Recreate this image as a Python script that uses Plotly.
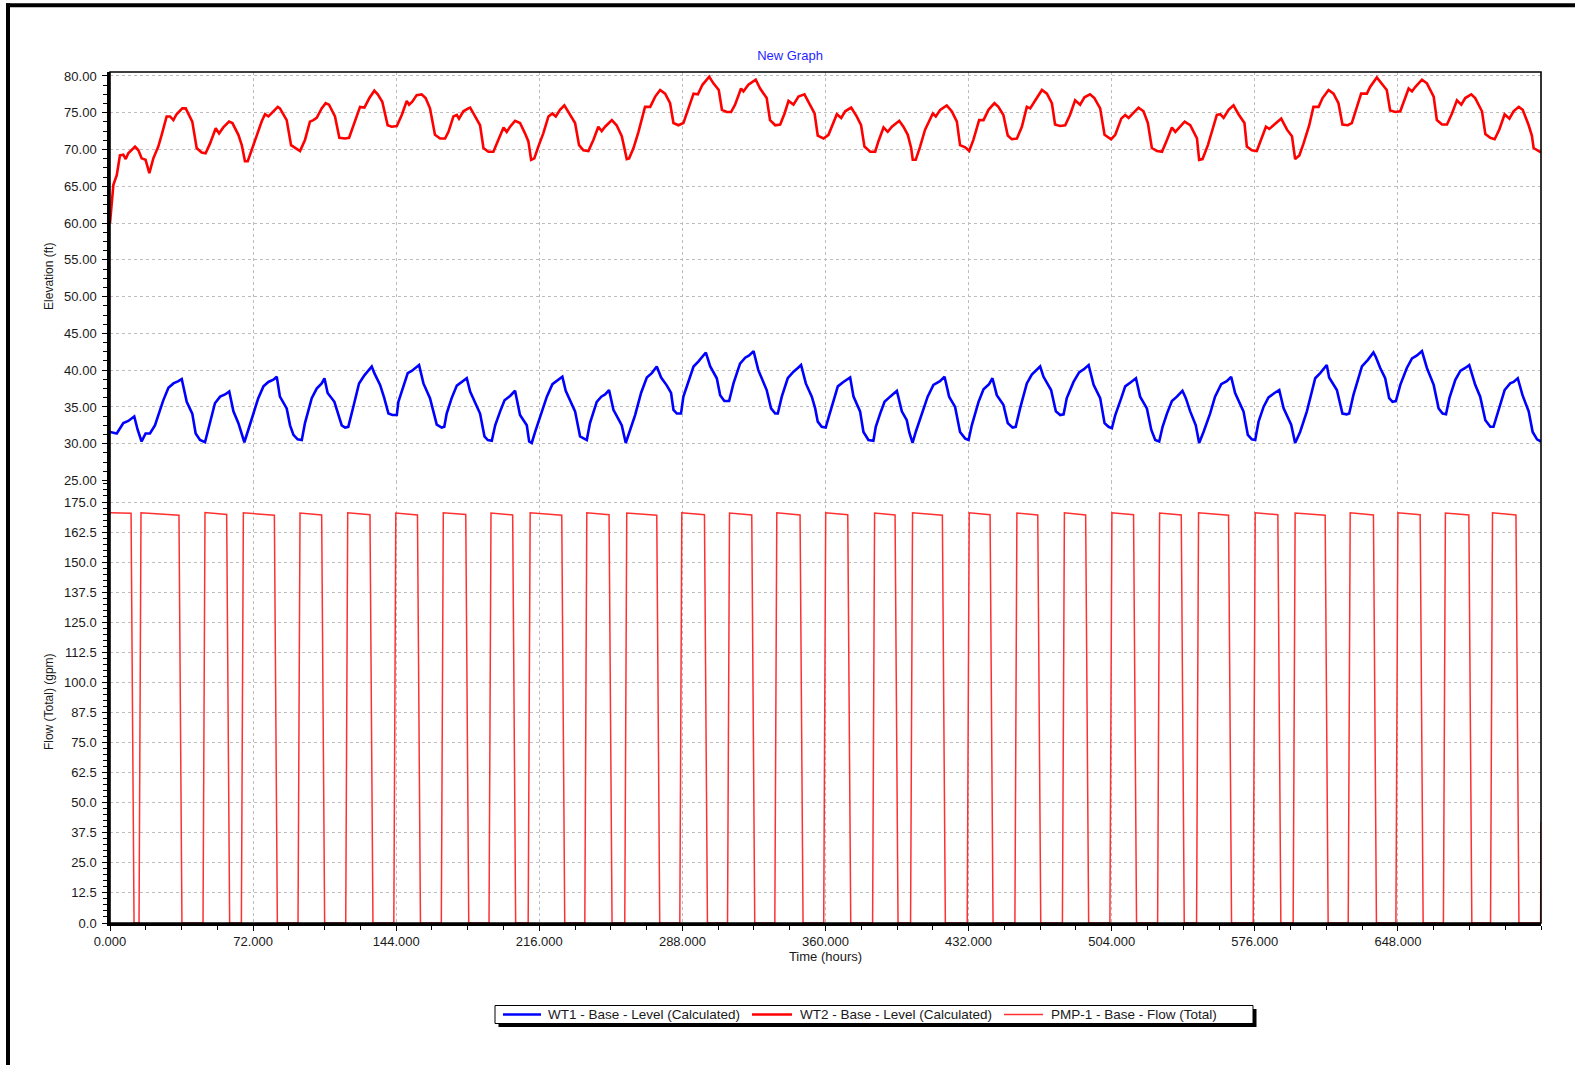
import plotly.graph_objects as go

# ---------------- data ----------------
# WT2 - Base - Level (Calculated): (time h, elevation ft)
wt2_samples = [
    (0.0, 60.0), (1.7, 65.2), (3.4, 66.5), (5.0, 69.2), (6.7, 69.3), (7.9, 68.7), (9.2, 69.5),
    (12.6, 70.4), (14.3, 69.9), (15.9, 68.8), (17.9, 68.6), (19.8, 66.8), (21.8, 68.8), (24.3, 70.4),
    (26.0, 72.0), (28.5, 74.5), (30.2, 74.5), (31.9, 74.0), (33.5, 74.8), (36.4, 75.6), (38.1, 75.6),
    (41.4, 73.8), (43.6, 70.2), (46.1, 69.6), (48.1, 69.5), (50.3, 70.8), (53.2, 72.9), (54.9, 72.2),
    (57.0, 73.0), (59.9, 73.8), (61.6, 73.6), (64.6, 72.0), (66.3, 70.6), (67.9, 68.4), (69.3, 68.4),
    (71.3, 69.9), (73.8, 72.0), (76.3, 73.8), (78.0, 74.8), (79.7, 74.5), (82.2, 75.2), (84.4, 75.8),
    (85.5, 75.6), (88.9, 74.0), (91.1, 70.6), (93.1, 70.2), (95.6, 69.8), (98.1, 71.3), (100.6, 73.8),
    (102.3, 74.0), (104.0, 74.3), (106.5, 75.6), (108.5, 76.3), (110.2, 76.1), (113.2, 74.5),
    (115.4, 71.6), (118.3, 71.5), (120.3, 71.6), (122.4, 73.1), (125.8, 75.8), (128.0, 75.7),
    (130.5, 77.0), (133.0, 78.0), (134.7, 77.5), (137.0, 76.5), (139.7, 73.3), (141.7, 73.1),
    (144.3, 73.2), (146.8, 74.7), (149.3, 76.6), (150.5, 76.1), (152.1, 76.5), (154.3, 77.4),
    (156.8, 77.5), (158.8, 77.0), (161.0, 75.6), (163.5, 72.0), (166.1, 71.5), (168.6, 71.5),
    (170.3, 72.4), (172.8, 74.5), (174.5, 74.7), (175.6, 74.2), (177.8, 75.2), (180.3, 75.6),
    (181.2, 75.7), (183.7, 74.5), (186.2, 73.3), (187.9, 70.2), (190.4, 69.7), (192.9, 69.7),
    (195.4, 71.3), (198.0, 73.0), (199.6, 72.4), (201.3, 73.1), (203.8, 73.9), (206.3, 73.6),
    (208.8, 72.2), (210.5, 71.1), (211.9, 68.6), (213.5, 68.8), (215.5, 70.4), (218.0, 72.2),
    (220.6, 74.5), (222.6, 74.9), (224.3, 74.5), (226.4, 75.4), (228.6, 76.0), (231.5, 74.8),
    (234.0, 73.6), (236.0, 70.6), (238.2, 69.9), (240.7, 69.8), (243.2, 71.3), (245.7, 73.1),
    (247.4, 72.5), (249.1, 73.1), (252.5, 74.0), (254.9, 73.3), (257.5, 71.8), (260.0, 68.7),
    (261.2, 68.8), (263.4, 70.2), (265.9, 72.4), (269.2, 75.8), (271.8, 75.8), (274.3, 77.2),
    (276.8, 78.1), (279.3, 77.6), (281.8, 76.3), (283.5, 73.6), (286.0, 73.3), (288.5, 73.6),
    (291.0, 75.6), (293.6, 77.6), (295.8, 77.5), (298.1, 78.8), (301.5, 79.9), (303.6, 79.0),
    (306.3, 78.1), (307.9, 75.4), (310.3, 75.1), (312.5, 75.1), (314.5, 76.1), (317.5, 78.3),
    (318.7, 77.9), (321.2, 78.8), (324.9, 79.5), (327.1, 78.3), (330.4, 77.0), (332.1, 74.0),
    (334.7, 73.3), (337.2, 73.4), (339.4, 74.9), (341.4, 76.6), (343.9, 76.1), (346.4, 77.2),
    (349.4, 77.5), (351.4, 76.5), (354.5, 74.9), (356.1, 71.9), (359.0, 71.5), (361.5, 72.0),
    (364.0, 73.8), (365.7, 74.8), (367.9, 74.3), (369.9, 75.2), (372.9, 75.7), (375.7, 74.5),
    (377.9, 73.3), (379.6, 70.4), (382.5, 69.7), (385.0, 69.7), (386.6, 71.1), (389.2, 73.0),
    (391.3, 72.4), (393.4, 73.1), (397.1, 73.9), (399.2, 73.1), (401.4, 72.0), (403.1, 70.2),
    (403.9, 68.6), (405.4, 68.6), (407.6, 70.4), (410.1, 72.7), (414.0, 74.9), (415.5, 74.5),
    (417.7, 75.4), (421.0, 76.0), (423.5, 75.2), (426.1, 73.8), (427.7, 70.6), (430.3, 70.3),
    (432.3, 69.8), (434.4, 71.3), (437.3, 74.0), (439.5, 74.0), (442.0, 75.4), (445.0, 76.3),
    (447.0, 75.8), (449.5, 74.7), (451.7, 71.9), (453.7, 71.4), (456.3, 71.5), (458.8, 73.1),
    (461.3, 75.8), (463.0, 75.6), (465.1, 76.5), (468.9, 78.1), (471.4, 77.6), (473.9, 76.3),
    (475.5, 73.4), (478.0, 73.2), (480.6, 73.3), (483.0, 74.7), (485.6, 76.7), (488.1, 76.1),
    (490.3, 77.1), (493.1, 77.5), (495.3, 77.0), (498.2, 75.6), (500.4, 72.0), (503.7, 71.4),
    (505.8, 72.0), (508.8, 74.2), (510.8, 74.7), (512.5, 74.3), (517.5, 75.7), (520.0, 75.2),
    (522.2, 73.6), (524.2, 70.2), (526.8, 69.8), (529.3, 69.7), (531.8, 71.3), (534.3, 73.0),
    (536.0, 72.4), (537.6, 72.9), (540.7, 73.8), (543.5, 73.3), (546.9, 71.5), (548.0, 68.6),
    (549.7, 68.7), (552.4, 70.6), (554.4, 72.4), (556.9, 74.7), (558.6, 74.8), (560.3, 74.3),
    (562.8, 75.4), (565.3, 76.0), (567.8, 74.8), (570.8, 73.6), (572.0, 70.4), (574.5, 69.9),
    (577.0, 69.8), (579.2, 71.3), (581.6, 73.1), (583.3, 72.8), (585.0, 73.2), (589.3, 74.2),
    (592.2, 72.7), (594.7, 71.8), (596.3, 68.7), (598.4, 69.2), (600.5, 70.8), (603.4, 73.3),
    (605.5, 75.8), (608.1, 75.8), (610.1, 77.0), (613.1, 78.1), (615.6, 77.6), (618.1, 76.3),
    (620.1, 73.4), (622.8, 73.3), (624.8, 73.6), (626.8, 75.2), (629.5, 77.6), (632.4, 77.6),
    (634.0, 78.5), (637.4, 79.8), (639.9, 79.0), (642.4, 78.1), (644.1, 75.3), (646.7, 75.1),
    (649.2, 75.2), (650.8, 76.3), (653.4, 78.3), (655.1, 77.9), (656.7, 78.5), (660.1, 79.5),
    (662.6, 79.0), (666.0, 77.2), (667.6, 74.0), (670.2, 73.4), (672.7, 73.4), (675.2, 74.9),
    (677.7, 76.7), (679.9, 76.1), (681.9, 77.0), (684.9, 77.5), (686.9, 77.0), (690.3, 75.2),
    (692.0, 72.1), (694.5, 71.6), (696.7, 71.4), (699.0, 72.7), (701.7, 74.8), (704.1, 74.2),
    (706.2, 75.2), (708.8, 75.8), (710.8, 75.4), (713.8, 73.3), (715.4, 71.9), (716.3, 70.2),
    (718.0, 69.9), (720.0, 69.6),
]

# WT1 - Base - Level (Calculated): (time h, elevation ft)
wt1_samples = [
    (0.0, 31.6), (3.4, 31.4), (6.7, 32.8), (9.2, 33.1), (12.2, 33.7), (13.9, 31.9), (15.9, 30.3),
    (17.9, 31.4), (20.1, 31.4), (22.6, 32.5), (25.2, 34.6), (26.8, 35.9), (29.4, 37.6), (31.9, 38.2),
    (34.4, 38.5), (36.1, 38.8), (38.6, 35.7), (41.4, 34.1), (43.1, 31.4), (45.3, 30.5), (47.8, 30.2),
    (49.8, 32.3), (52.8, 35.5), (55.4, 36.4), (57.9, 36.7), (60.0, 37.1), (62.1, 34.4), (64.6, 32.8),
    (66.3, 31.2), (67.6, 30.2), (69.6, 31.9), (72.1, 33.9), (74.6, 36.2), (77.2, 37.8), (79.7, 38.4),
    (82.2, 38.7), (83.9, 39.1), (85.5, 36.4), (88.9, 34.8), (90.6, 32.5), (92.3, 31.2), (94.4, 30.6),
    (96.5, 30.5), (98.1, 32.8), (101.5, 36.2), (104.0, 37.5), (106.5, 38.2), (107.9, 38.9),
    (109.5, 36.9), (112.9, 35.7), (114.9, 34.1), (116.6, 32.5), (118.3, 32.2), (119.9, 32.3),
    (122.4, 35.0), (125.3, 38.2), (128.0, 39.3), (130.0, 40.0), (131.7, 40.5), (133.0, 39.6),
    (135.9, 38.0), (138.0, 36.2), (140.1, 34.1), (142.1, 33.9), (144.3, 33.9), (145.1, 35.7),
    (147.6, 37.8), (149.8, 39.6), (151.8, 39.9), (153.8, 40.3), (155.5, 40.7), (157.7, 38.2),
    (161.0, 36.2), (162.7, 34.4), (164.4, 32.6), (166.9, 32.2), (168.2, 32.3), (169.4, 34.1),
    (171.9, 36.2), (174.5, 37.9), (177.0, 38.4), (179.5, 38.9), (181.2, 37.1), (183.7, 35.5),
    (186.2, 34.1), (188.4, 31.0), (190.1, 30.5), (192.1, 30.4), (193.8, 32.5), (196.3, 34.4),
    (198.5, 35.9), (201.3, 36.5), (203.8, 37.2), (206.3, 33.9), (209.7, 32.5), (210.9, 30.3),
    (212.2, 30.1), (213.9, 31.6), (216.4, 33.7), (219.8, 36.4), (222.6, 38.1), (225.6, 38.7),
    (227.6, 39.1), (229.3, 37.2), (232.0, 35.5), (234.0, 34.4), (236.5, 31.0), (238.7, 30.6),
    (239.9, 30.5), (241.5, 32.8), (244.9, 35.7), (247.2, 36.4), (249.1, 36.7), (251.1, 37.3),
    (253.3, 34.6), (256.1, 33.2), (257.5, 32.5), (259.5, 30.1), (261.7, 31.9), (264.2, 33.9),
    (267.2, 36.9), (270.1, 39.0), (272.6, 39.6), (275.1, 40.5), (277.3, 39.0), (280.2, 37.9),
    (282.3, 36.9), (283.5, 34.6), (285.2, 34.1), (287.3, 34.1), (288.5, 36.4), (290.7, 38.2),
    (293.6, 40.5), (296.1, 41.2), (298.1, 41.8), (299.8, 42.4), (302.0, 40.5), (305.3, 38.9),
    (307.0, 36.6), (309.1, 35.8), (311.5, 35.8), (313.7, 38.2), (317.0, 40.9), (319.6, 41.7),
    (321.6, 42.0), (323.8, 42.6), (326.2, 40.0), (328.8, 38.4), (330.4, 37.3), (332.6, 34.8),
    (334.7, 34.1), (336.0, 34.1), (338.0, 36.4), (341.0, 38.9), (343.9, 39.8), (346.1, 40.3),
    (347.7, 40.7), (350.1, 38.2), (353.1, 36.4), (354.8, 34.8), (356.1, 33.0), (358.1, 32.3),
    (360.1, 32.2), (361.5, 33.5), (364.0, 35.7), (366.2, 37.8), (369.0, 38.4), (372.4, 39.0),
    (374.1, 36.4), (377.4, 34.4), (379.1, 31.6), (381.6, 30.5), (384.1, 30.4), (385.3, 32.3),
    (387.5, 34.1), (389.7, 35.7), (392.5, 36.4), (395.9, 37.2), (398.4, 34.4), (400.9, 33.2),
    (402.1, 31.6), (403.8, 30.1), (405.4, 31.6), (408.4, 33.9), (411.4, 36.4), (414.3, 38.0),
    (417.6, 38.5), (419.9, 39.1), (422.2, 36.4), (425.2, 35.0), (427.7, 31.6), (430.3, 30.7),
    (432.0, 30.5), (433.6, 32.5), (437.0, 35.7), (439.5, 37.4), (442.3, 38.1), (444.0, 38.9),
    (446.2, 36.6), (449.5, 35.3), (451.7, 32.8), (454.1, 32.2), (455.7, 32.3), (457.9, 34.8),
    (461.3, 38.2), (463.8, 39.4), (466.3, 40.0), (468.0, 40.5), (469.7, 39.1), (473.5, 37.3),
    (475.9, 34.4), (478.1, 33.9), (479.8, 34.0), (481.4, 36.2), (484.8, 38.4), (487.6, 39.7),
    (490.3, 40.2), (492.4, 40.7), (494.9, 38.0), (498.2, 36.2), (500.4, 32.8), (502.4, 32.3),
    (504.1, 32.1), (505.8, 33.9), (508.8, 36.2), (510.8, 37.8), (513.8, 38.4), (516.2, 38.9),
    (518.3, 36.4), (521.7, 34.8), (523.9, 31.9), (525.9, 30.5), (527.9, 30.3), (529.6, 32.3),
    (531.8, 34.1), (534.3, 35.8), (536.8, 36.4), (539.6, 37.2), (541.3, 36.2), (543.5, 34.4),
    (546.3, 32.5), (548.0, 30.1), (550.2, 31.6), (553.5, 34.1), (556.0, 36.4), (559.1, 38.1),
    (561.9, 38.5), (564.1, 39.1), (566.1, 36.9), (570.3, 34.4), (572.5, 31.2), (574.5, 30.6),
    (576.2, 30.5), (577.9, 33.0), (580.4, 35.0), (582.9, 36.3), (585.9, 36.9), (588.3, 37.3),
    (590.5, 34.8), (594.3, 32.6), (596.3, 30.1), (598.8, 31.6), (602.2, 34.4), (606.4, 38.9),
    (608.9, 39.6), (611.4, 40.5), (612.2, 40.7), (613.4, 39.0), (617.3, 37.3), (620.1, 34.1),
    (622.3, 34.0), (623.5, 34.1), (625.6, 36.6), (629.9, 40.5), (632.9, 41.4), (635.7, 42.4),
    (636.9, 41.8), (639.1, 40.3), (641.6, 38.9), (643.6, 36.2), (645.3, 35.7), (647.0, 35.8),
    (649.2, 38.0), (652.5, 40.3), (655.1, 41.6), (657.6, 42.0), (660.1, 42.6), (662.6, 40.3),
    (666.0, 38.0), (668.5, 34.8), (670.5, 34.1), (672.2, 34.0), (673.9, 36.2), (676.9, 38.7),
    (679.4, 39.9), (681.9, 40.3), (683.9, 40.7), (686.9, 38.0), (689.4, 36.4), (692.0, 33.2),
    (694.5, 32.3), (696.1, 32.3), (698.6, 34.6), (701.7, 37.3), (704.5, 38.2), (706.2, 38.4),
    (708.3, 38.9), (710.7, 36.6), (713.8, 34.4), (715.8, 31.6), (718.0, 30.6), (720.0, 30.3),
]

# PMP-1 - Base - Flow (Total): pump running periods (h) and flow at start / end of each run (gpm)
pump_on = [0.0, 15.6, 47.8, 67.1, 95.6, 119.6, 143.8, 167.7, 191.7, 211.4, 239.9, 260.0, 287.7,
           311.7, 335.5, 360.1, 384.7, 403.8, 432.3, 456.3, 480.2, 504.1, 528.1, 547.7, 576.2,
           596.3, 624.0, 648.0, 671.9, 695.6]
pump_off = [10.6, 34.7, 58.7, 82.7, 106.5, 130.8, 154.7, 179.0, 202.6, 227.3, 251.1, 275.1, 299.1,
            322.9, 347.2, 371.2, 395.0, 418.8, 442.8, 466.8, 490.9, 515.0, 539.0, 562.8, 587.6,
            611.4, 635.7, 659.2, 683.7, 707.4]
pump_q_start = [170.5, 170.5, 170.6, 170.5, 170.4, 170.5, 170.4, 170.5, 170.4, 170.5, 170.5, 170.4,
                170.5, 170.4, 170.5, 170.5, 170.4, 170.5, 170.5, 170.4, 170.5, 170.5, 170.4, 170.5,
                170.5, 170.4, 170.5, 170.5, 170.4, 170.5]
pump_q_end = [170.3, 169.5, 169.8, 169.5, 169.6, 169.7, 169.6, 169.8, 169.6, 169.5, 169.7, 169.5,
              169.7, 169.6, 169.6, 169.7, 169.6, 169.5, 169.7, 169.6, 169.6, 169.7, 169.6, 169.5,
              169.7, 169.5, 169.6, 169.7, 169.6, 169.6]
pump_rise_hours = 1.0   # time taken by the flow to ramp up
pump_fall_hours = 1.5   # time taken by the flow to ramp down
pump_tail_hours = [719.8, 720.0]
pump_tail_flow = [0.0, 42.0]

x_tick_vals = [0, 72, 144, 216, 288, 360, 432, 504, 576, 648]

series_names = ["WT1 - Base - Level (Calculated)",
                "WT2 - Base - Level (Calculated)",
                "PMP-1 - Base - Flow (Total)"]
series_colors = ["#0000ff", "#ff0000", "#ff3030"]
series_widths = [2.6, 2.6, 1.5]

# ---------------- series assembly ----------------
wt1_hours = [s[0] for s in wt1_samples]
wt1_level = [s[1] for s in wt1_samples]
wt2_hours = [s[0] for s in wt2_samples]
wt2_level = [s[1] for s in wt2_samples]

pump_hours, pump_flow = [], []
for t_on, t_off, q_s, q_e in zip(pump_on, pump_off, pump_q_start, pump_q_end):
    if t_on > 0:
        pump_hours.append(t_on - pump_rise_hours)
        pump_flow.append(0.0)
    pump_hours += [t_on, t_off, t_off + pump_fall_hours]
    pump_flow += [q_s, q_e, 0.0]
pump_hours += pump_tail_hours
pump_flow += pump_tail_flow

# ---------------- layout geometry (pixels) ----------------
W, H = 1575, 1065
ML, MR, MT, MB = 110, 34, 72, 142
PW, PH = W - ML - MR, H - MT - MB
Y_SPLIT_PX = 480.5                      # pixel row where the two y axes meet
split = (H - MB - Y_SPLIT_PX) / PH


def px(xp):
    return (xp - ML) / PW


def py(yp):
    return (H - MB - yp) / PH


FONT = "Liberation Sans, Arial, sans-serif"
TXT = "#1a1a1a"
GRID = "#bdbdbd"

fig = go.Figure()
fig.add_trace(go.Scatter(
    x=wt1_hours, y=wt1_level, mode="lines", name=series_names[0],
    line=dict(color=series_colors[0], width=series_widths[0]), xaxis="x", yaxis="y"))
fig.add_trace(go.Scatter(
    x=wt2_hours, y=wt2_level, mode="lines", name=series_names[1],
    line=dict(color=series_colors[1], width=series_widths[1]), xaxis="x", yaxis="y"))
fig.add_trace(go.Scatter(
    x=pump_hours, y=pump_flow, mode="lines", name=series_names[2],
    line=dict(color=series_colors[2], width=series_widths[2]), xaxis="x", yaxis="y2"))

tick_common = dict(
    ticks="outside", ticklen=5, tickwidth=1, tickcolor="black",
    showline=True, linecolor="black", linewidth=2.5,
    showgrid=True, gridcolor=GRID, gridwidth=1, griddash="dot",
    zeroline=False, automargin=False,
    tickfont=dict(family=FONT, size=13, color=TXT),
)

fig.update_layout(
    template="none",
    width=W, height=H,
    margin=dict(l=ML, r=MR, t=MT, b=MB, pad=0),
    paper_bgcolor="white", plot_bgcolor="white",
    showlegend=False,
    title=dict(text="New Graph", x=790 / W, xref="container", xanchor="center",
               y=1 - 55 / H, yref="container", yanchor="middle",
               font=dict(family=FONT, size=13, color="#1f1fff")),
    xaxis=dict(
        domain=[0, 1], anchor="y2", range=[0, 720],
        tickmode="array", tickvals=x_tick_vals,
        ticktext=[f"{v:.3f}" for v in x_tick_vals],
        minor=dict(tickmode="linear", tick0=0, dtick=18, ticks="outside", ticklen=4,
                   tickcolor="black", showgrid=False),
        title=dict(text="Time (hours)", standoff=3,
                   font=dict(family=FONT, size=13, color=TXT)),
        **tick_common,
    ),
    yaxis=dict(
        domain=[split, 1], anchor="x", range=[25, 25 + (Y_SPLIT_PX - MT) / 7.355],
        tickmode="linear", tick0=25, dtick=5, tickformat=".2f", ticklabelstandoff=3,
        minor=dict(tickmode="linear", tick0=25, dtick=1.25, ticks="outside", ticklen=4,
                   tickcolor="black", showgrid=False),
        title=dict(text="Elevation (ft)", standoff=8,
                   font=dict(family=FONT, size=12, color=TXT)),
        **tick_common,
    ),
    yaxis2=dict(
        domain=[0, split], anchor="x", range=[0, (H - MB - Y_SPLIT_PX) / 2.4057],
        tickmode="linear", tick0=0, dtick=12.5, tickformat=".1f", ticklabelstandoff=3,
        minor=dict(tickmode="linear", tick0=0, dtick=2.5, ticks="outside", ticklen=4,
                   tickcolor="black", showgrid=False),
        title=dict(text="Flow (Total) (gpm)", standoff=8,
                   font=dict(family=FONT, size=12, color=TXT)),
        **tick_common,
    ),
)

# legend box geometry (pixels)
LEG_X0, LEG_X1, LEG_Y0, LEG_Y1 = 495, 1253, 1005.5, 1023.5
LEG_SHADOW = 3.5
LEG_YC = (LEG_Y0 + LEG_Y1) / 2
LEG_LINE_X = [(503, 541), (752, 792), (1004, 1043)]
LEG_TEXT_X = [545.5, 798, 1049]

shapes = [
    # plot-area frame (top/right)
    dict(type="rect", xref="paper", yref="paper", x0=0, x1=1, y0=0, y1=1,
         line=dict(color="black", width=1.6), fillcolor="rgba(0,0,0,0)", layer="above"),
    # outer window border (top and left)
    dict(type="line", xref="paper", yref="paper", x0=px(6), x1=px(1580), y0=py(5.3), y1=py(5.3),
         line=dict(color="black", width=4)),
    dict(type="line", xref="paper", yref="paper", x0=px(8), x1=px(8), y0=py(3.3), y1=py(1070),
         line=dict(color="black", width=4)),
    # legend drop shadow and box
    dict(type="rect", xref="paper", yref="paper",
         x0=px(LEG_X0 + LEG_SHADOW), x1=px(LEG_X1 + LEG_SHADOW),
         y0=py(LEG_Y1 + LEG_SHADOW), y1=py(LEG_Y0 + LEG_SHADOW),
         line=dict(width=0), fillcolor="black"),
    dict(type="rect", xref="paper", yref="paper",
         x0=px(LEG_X0), x1=px(LEG_X1), y0=py(LEG_Y1), y1=py(LEG_Y0),
         line=dict(color="black", width=1), fillcolor="white"),
]
annotations = []
for (lx0, lx1), tx, name, col, lw in zip(LEG_LINE_X, LEG_TEXT_X, series_names,
                                         series_colors, series_widths):
    shapes.append(dict(type="line", xref="paper", yref="paper", x0=px(lx0), x1=px(lx1),
                       y0=py(LEG_YC), y1=py(LEG_YC), line=dict(color=col, width=lw)))
    annotations.append(dict(text=name, xref="paper", yref="paper", x=px(tx), y=py(LEG_YC),
                            xanchor="left", yanchor="middle", showarrow=False,
                            font=dict(family=FONT, size=13.5, color=TXT)))
fig.update_layout(shapes=shapes, annotations=annotations)

fig.write_html("out.html")
